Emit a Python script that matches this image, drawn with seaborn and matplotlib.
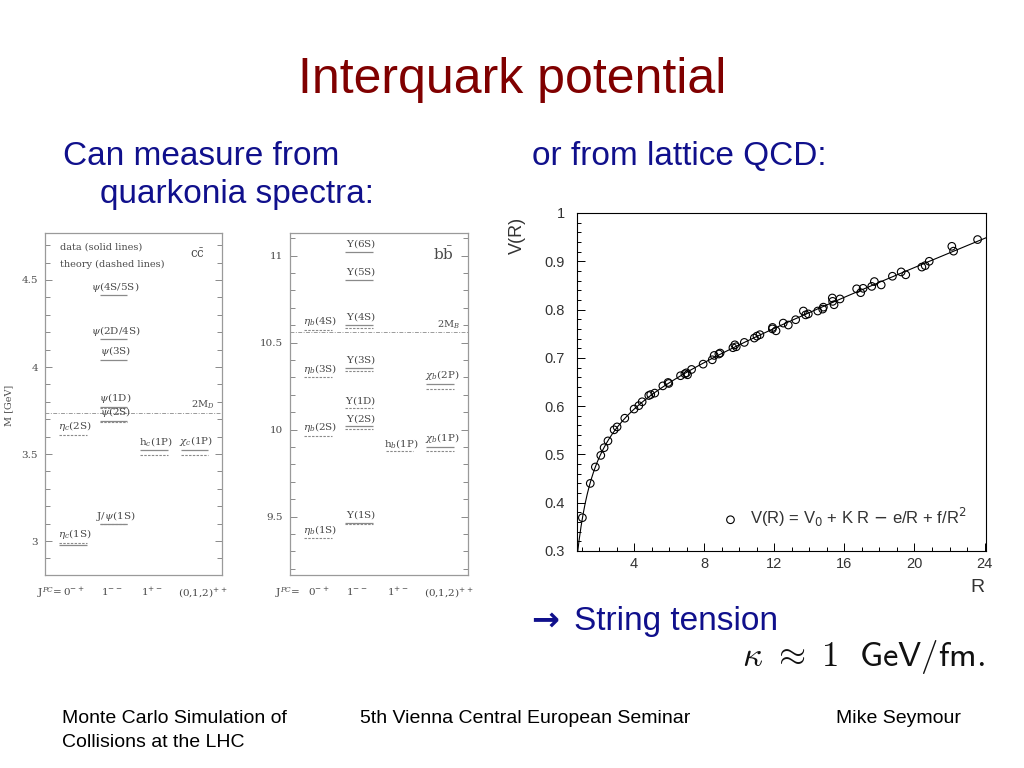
import numpy as np
import pandas as pd
import matplotlib
matplotlib.use("Agg")
import matplotlib.pyplot as plt
import matplotlib.transforms as mtransforms
from matplotlib.ticker import MultipleLocator, FixedLocator, FixedFormatter
import seaborn as sns

sns.set_theme(style="white")
plt.rcParams['font.family'] = ['Liberation Sans', 'DejaVu Sans']
plt.rcParams['mathtext.fontset'] = 'dejavuserif'

nan = np.nan

# 1. Data

# charmonium (c cbar) levels, GeV
cc_states = [r'$\eta_c$(1S)', r'J/$\psi$(1S)', r'$\eta_c$(2S)', r'$\psi$(2S)', r'$\psi$(1D)',
             r'$\psi$(3S)', r'$\psi$(2D/4S)', r'$\psi$(4S/5S)', r'h$_c$(1P)', r'$\chi_c$(1P)']
cc_jpc = [0, 1, 0, 1, 1, 1, 1, 1, 2, 3]
cc_data = [2.980, 3.097, nan, 3.690, 3.770, 4.040, 4.160, 4.412, 3.524, 3.523]
cc_theory = [2.988, 3.097, 3.610, 3.686, 3.762, nan, nan, nan, 3.494, 3.494]
cc_threshold = 3.737

# bottomonium (b bbar) levels, GeV
bb_states = [r'$\eta_b$(1S)', r'$\Upsilon$(1S)', r'$\eta_b$(2S)', r'$\Upsilon$(2S)', r'$\Upsilon$(1D)',
             r'$\eta_b$(3S)', r'$\Upsilon$(3S)', r'$\eta_b$(4S)', r'$\Upsilon$(4S)', r'$\Upsilon$(5S)',
             r'$\Upsilon$(6S)', r'h$_b$(1P)', r'$\chi_b$(1P)', r'$\chi_b$(2P)']
bb_jpc = [0, 1, 0, 1, 1, 0, 1, 0, 1, 1, 1, 2, 3, 3]
bb_data = [nan, 9.462, nan, 10.018, nan, nan, 10.354, nan, 10.603, 10.862, 11.021, nan, 9.899, 10.263]
bb_theory = [9.375, 9.458, 9.964, 10.005, 10.123, 10.300, 10.338, 10.574, 10.584, nan, nan, 9.874, 9.874, 10.233]
bb_threshold = 10.559

jpc_labels = [r'0$^{-+}$', r'1$^{--}$', r'1$^{+-}$', r'(0,1,2)$^{++}$']

# lattice QCD potential
lat_R = [1.05, 1.50, 1.79, 2.10, 2.29, 2.51, 2.86, 3.03, 3.47, 4.00, 4.27, 4.46, 4.84, 4.95,
         5.18, 5.64, 5.94, 5.98, 6.65, 6.90, 6.99, 7.05, 7.28, 7.94, 8.46, 8.57, 8.84, 8.91,
         9.64, 9.75, 9.83, 10.29, 10.86, 11.01, 11.18, 11.90, 11.89, 12.10, 12.51, 12.80,
         13.22, 13.66, 13.79, 13.94, 14.48, 14.76, 14.80, 15.31, 15.33, 15.41, 15.75, 16.70,
         16.93, 17.07, 17.56, 17.71, 18.10, 18.74, 19.24, 19.50, 20.42, 20.61, 20.84, 22.13,
         22.23, 23.60]
lat_V = [0.369, 0.440, 0.474, 0.498, 0.514, 0.528, 0.551, 0.557, 0.575, 0.594, 0.601, 0.609,
         0.622, 0.624, 0.627, 0.642, 0.649, 0.647, 0.663, 0.667, 0.669, 0.665, 0.676, 0.687,
         0.696, 0.705, 0.708, 0.710, 0.721, 0.727, 0.723, 0.732, 0.741, 0.745, 0.748, 0.763,
         0.760, 0.756, 0.772, 0.768, 0.779, 0.797, 0.789, 0.791, 0.797, 0.801, 0.805, 0.824,
         0.817, 0.810, 0.822, 0.843, 0.835, 0.844, 0.848, 0.858, 0.851, 0.869, 0.878, 0.872,
         0.888, 0.891, 0.900, 0.931, 0.921, 0.945]

lat = pd.DataFrame({'R': lat_R, 'V': lat_V})

# fit V(R) = V0 + K R - e/R + f/R^2 to the points
A = np.column_stack([np.ones(len(lat)), lat.R, -1 / lat.R, 1 / lat.R**2])
coef, *_ = np.linalg.lstsq(A, lat.V, rcond=None)
R_fine = np.linspace(0.74, 24.1, 400)
fit = pd.DataFrame({'R': R_fine,
                    'V': coef[0] + coef[1] * R_fine - coef[2] / R_fine + coef[3] / R_fine**2})


# 2. Figure

fig = plt.figure(figsize=(10.24, 7.68), dpi=100)
W, H = 1024, 768
blue = '#10108c'


def px(x, y):
    return x / W, 1 - y / H


gray_line = '#8a8a8a'
gray_text = '#4a4a4a'
serif = 'DejaVu Serif'


def draw_spectrum(ax, names, jpc, data, theory, thr, thr_label, ylim, major_ticks, major_labels,
                  flavour, flavour_size, jpc_x):
    ax.set_xlim(-0.685, 3.677)
    ax.set_ylim(*ylim)
    for name, k, md, mt in zip(names, jpc, data, theory):
        if not np.isnan(md):
            ax.hlines(md, k - 0.34, k + 0.34, color=gray_line, lw=0.9)
        if not np.isnan(mt):
            ax.hlines(mt, k - 0.34, k + 0.34, color=gray_line, lw=0.8, linestyles=(0, (2.2, 1.2)))
        top = np.nanmax([md, mt])
        ax.annotate(name, (k + 0.05, top), xytext=(0, 1.2), textcoords='offset points',
                    ha='center', va='bottom', fontsize=7.5, color=gray_text, family=serif)
    ax.axhline(thr, color='#9a9a9a', lw=0.7, ls=(0, (4, 1.5, 1, 1.5)))
    trans = mtransforms.blended_transform_factory(ax.transAxes, ax.transData)
    ax.annotate(thr_label, (0.955, thr), xycoords=trans, xytext=(0, 1), textcoords='offset points',
                ha='right', va='bottom', fontsize=7, color=gray_text, family=serif)
    ax.text(0.86, 0.937, flavour, transform=ax.transAxes, ha='center', va='center',
            fontsize=flavour_size, color=gray_text, family=serif)

    ax.yaxis.set_major_locator(FixedLocator(major_ticks))
    ax.yaxis.set_major_formatter(FixedFormatter(major_labels))
    ax.yaxis.set_minor_locator(MultipleLocator(0.1))
    ax.tick_params(axis='y', which='both', direction='in', left=True, right=True,
                   colors=gray_line, labelcolor=gray_text, labelsize=7.5, pad=5)
    ax.tick_params(axis='y', which='major', length=5, width=0.7)
    ax.tick_params(axis='y', which='minor', length=3.5, width=0.7)
    for lab in ax.get_yticklabels():
        lab.set_family(serif)

    ax.set_xticks([0.02, 0.95, 1.95, 3.2])
    ax.set_xticklabels(jpc_labels, fontsize=7.5, color=gray_text, family=serif)
    ax.tick_params(axis='x', length=0, pad=8)
    ax.text(jpc_x, -0.03, r'J$^{PC}$=', transform=ax.transAxes, ha='left', va='top',
            fontsize=7.5, color=gray_text, family=serif)
    for s in ax.spines.values():
        s.set_color('#9a9a9a')
        s.set_linewidth(0.9)
    ax.set_facecolor('white')


# charmonium panel
ax1 = fig.add_axes([45 / W, 1 - 575 / H, 177 / W, 342 / H])
draw_spectrum(ax1, cc_states, cc_jpc, cc_data, cc_theory, cc_threshold, r'2M$_D$',
              (2.805, 4.77), [3, 3.5, 4, 4.5], ['3', '3.5', '4', '4.5'],
              r'c$\bar{\mathrm{c}}$', 8.5, -0.045)
ax1.text(0.085, 0.959, 'data (solid lines)', transform=ax1.transAxes, ha='left', va='center',
         fontsize=7, color=gray_text, family=serif)
ax1.text(0.085, 0.909, 'theory (dashed lines)', transform=ax1.transAxes, ha='left', va='center',
         fontsize=7, color=gray_text, family=serif)
fig.text(*px(9, 405), 'M [GeV]', rotation=90, ha='center', va='center', fontsize=7,
         color=gray_text, family=serif)

# bottomonium panel
ax2 = fig.add_axes([290 / W, 1 - 575 / H, 178 / W, 342 / H])
draw_spectrum(ax2, bb_states, bb_jpc, bb_data, bb_theory, bb_threshold, r'2M$_B$',
              (9.164, 11.13), [9.5, 10, 10.5, 11], ['9.5', '10', '10.5', '11'],
              r'b$\bar{\mathrm{b}}$', 11, -0.085)

# lattice panel
ax3 = fig.add_axes([577 / W, 1 - 551 / H, 409 / W, 338 / H])
sns.lineplot(data=fit, x='R', y='V', ax=ax3, color='black', lw=0.8)
sns.scatterplot(data=lat, x='R', y='V', ax=ax3, marker='o', s=30, facecolor='none',
                edgecolor='black', linewidth=0.8, zorder=3,
                label=r'V(R) = V$_\mathsf{0}$ + K R $-$ e/R + f/R$^\mathsf{2}$')
ax3.set_xlim(0.743, 24.08)
ax3.set_ylim(0.3, 1.0)
ax3.set_xlabel('')
ax3.set_ylabel('')
ax3.xaxis.set_major_locator(FixedLocator([4, 8, 12, 16, 20, 24]))
ax3.xaxis.set_minor_locator(MultipleLocator(1))
ax3.yaxis.set_major_locator(FixedLocator([0.3, 0.4, 0.5, 0.6, 0.7, 0.8, 0.9, 1.0]))
ax3.yaxis.set_major_formatter(FixedFormatter(['0.3', '0.4', '0.5', '0.6', '0.7', '0.8', '0.9', '1']))
ax3.yaxis.set_minor_locator(MultipleLocator(0.02))
ax3.tick_params(which='both', direction='in', bottom=True, left=True, top=False, right=False,
                colors='black', labelcolor='#333333', labelsize=10.5, width=0.7)
ax3.tick_params(which='major', length=6)
ax3.tick_params(which='minor', length=3)
ax3.tick_params(axis='x', pad=4)
ax3.tick_params(axis='y', pad=9)
for s in ax3.spines.values():
    s.set_color('black')
    s.set_linewidth(0.8)
leg = ax3.legend(loc='lower right', bbox_to_anchor=(0.97, 0.045), frameon=False, fontsize=12,
                 handletextpad=0.2, borderaxespad=0, markerscale=1.0)
for t in leg.get_texts():
    t.set_color('#333333')
    t.set_math_fontfamily('dejavusans')
fig.text(*px(517, 235), 'V(R)', rotation=90, ha='center', va='center', fontsize=13, color='#333333')
fig.text(*px(977, 587), 'R', ha='center', va='center', fontsize=14, color='#333333')

# 3. Slide text
fig.text(*px(512, 93), 'Interquark potential', ha='center', va='baseline', fontsize=36,
         color='#800000')
fig.text(*px(63, 165), 'Can measure from', ha='left', va='baseline', fontsize=24, color=blue)
fig.text(*px(100, 203), 'quarkonia spectra:', ha='left', va='baseline', fontsize=24, color=blue)
fig.text(*px(532, 165), 'or from lattice QCD:', ha='left', va='baseline', fontsize=24, color=blue)
fig.text(*px(531, 630), '\u2192', ha='left', va='baseline', fontsize=24, color=blue,
         family='DejaVu Sans', fontweight='bold')
fig.text(*px(574, 630), 'String tension', ha='left', va='baseline', fontsize=24, color=blue)
fig.text(*px(985, 666), r'$\kappa\ \approx\ 1\ \ \mathsf{GeV/fm.}$', ha='right', va='baseline',
         fontsize=25, color='#111111', math_fontfamily='cm')

fig.text(*px(62, 723), 'Monte Carlo Simulation of', ha='left', va='baseline', fontsize=14, color='black')
fig.text(*px(62, 747), 'Collisions at the LHC', ha='left', va='baseline', fontsize=14, color='black')
fig.text(*px(360, 723), '5th Vienna Central European Seminar', ha='left', va='baseline',
         fontsize=14, color='black')
fig.text(*px(836, 723), 'Mike Seymour', ha='left', va='baseline', fontsize=14, color='black')

plt.savefig("out.png", dpi=100, facecolor='white')
